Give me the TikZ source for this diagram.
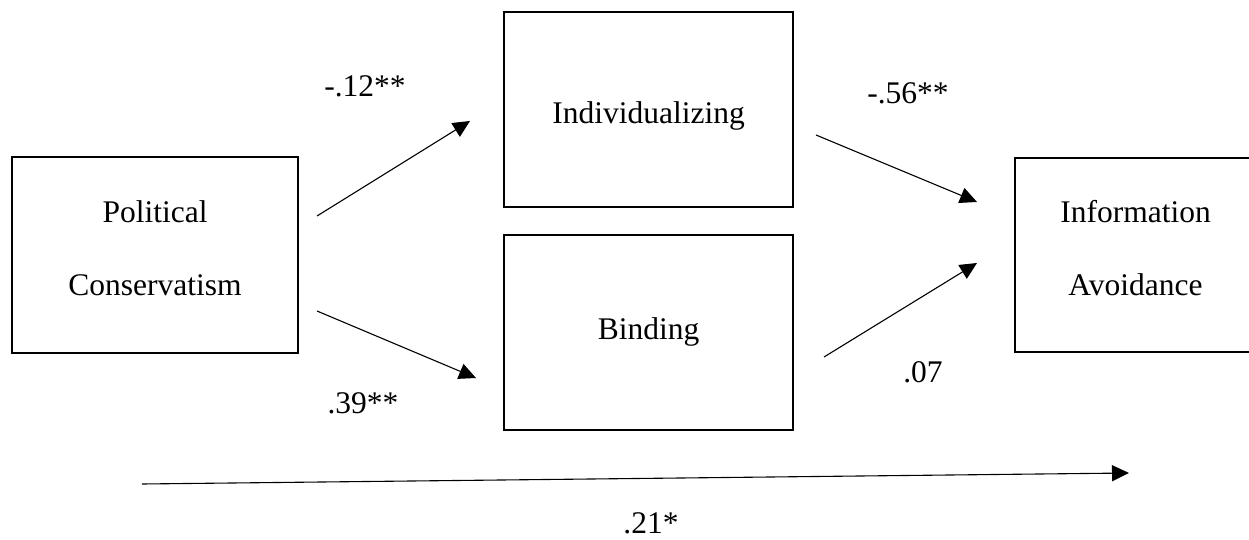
\documentclass[tikz,border=0pt]{standalone}
\usepackage{fontspec}
\setmainfont{Liberation Serif}
\usetikzlibrary{arrows.meta}
\begin{document}
\begin{tikzpicture}[x=1pt,y=-1pt,
  boxnode/.style={draw=black,line width=2.2pt,rectangle,inner sep=0pt},
  txt/.style={anchor=base,inner sep=0pt,font=\fontsize{31.5}{38}\selectfont},
  pathline/.style={line width=1.1pt,-{Triangle[length=17pt,width=16pt]}}]
\useasboundingbox (0,0) rectangle (1249,540);
\clip (0,0) rectangle (1249,540);
% boxes
\node[boxnode,minimum width=286pt,minimum height=196pt] (pc) at (155,255) {};
\node[boxnode,minimum width=289pt,minimum height=195pt] (ind) at (648.5,109.5) {};
\node[boxnode,minimum width=289pt,minimum height=195pt] (bind) at (648.5,332.5) {};
\node[boxnode,minimum width=241pt,minimum height=194pt] (ia) at (1135.5,255) {};
% box texts
\node[txt] (pct1) at (155,222) {Political};
\node[txt] (pct2) at (155,295) {Conservatism};
\node[txt] (indt) at (648.5,124) {Individualizing};
\node[txt] (bindt) at (648.5,339) {Binding};
\node[txt] (iat1) at (1135.5,222) {Information};
\node[txt] (iat2) at (1135.5,295) {Avoidance};
% connector end points
\coordinate (a1s) at (317,216);
\coordinate (a1e) at (470,121);
\coordinate (a2s) at (317,311);
\coordinate (a2e) at (476,378);
\coordinate (a3s) at (816,135);
\coordinate (a3e) at (977,202);
\coordinate (a4s) at (824,357);
\coordinate (a4e) at (977,263);
\coordinate (a5s) at (142,484);
\coordinate (a5e) at (1129,473);
\draw[pathline] (a1s) -- (a1e);
\draw[pathline] (a2s) -- (a2e);
\draw[pathline] (a3s) -- (a3e);
\draw[pathline] (a4s) -- (a4e);
\draw[pathline] (a5s) -- (a5e);
% coefficient labels
\node[txt] (l1) at (365,97) {-.12**};
\node[txt] (l2) at (363,413) {.39**};
\node[txt] (l3) at (908,103.5) {-.56**};
\node[txt] (l4) at (923,382) {.07};
\node[txt] (l5) at (651,533) {.21*};
\end{tikzpicture}
\end{document}
